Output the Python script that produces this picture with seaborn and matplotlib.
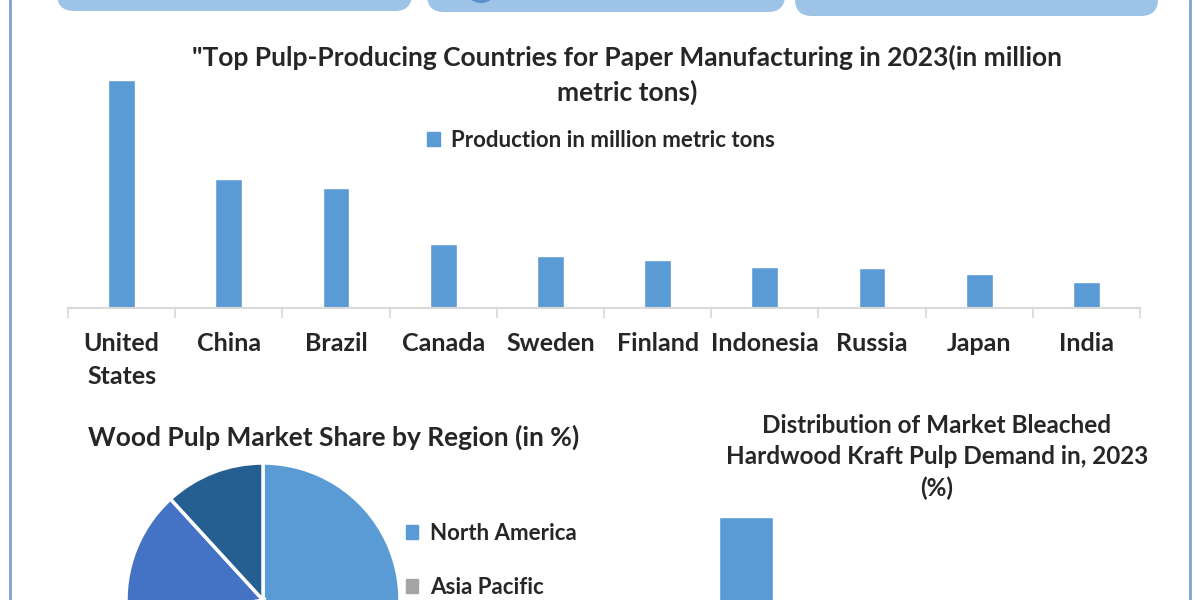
import matplotlib
matplotlib.use("Agg")
import matplotlib.pyplot as plt
from matplotlib.patches import FancyBboxPatch, Circle, Patch
import seaborn as sns
import pandas as pd
import numpy as np

# --- data ---
countries = ["United\nStates", "China", "Brazil", "Canada", "Sweden", "Finland",
             "Indonesia", "Russia", "Japan", "India"]
production = [50.0, 28.2, 26.4, 14.1, 11.5, 10.6, 9.0, 8.8, 7.5, 5.8]

regions = ["North America", "Asia Pacific", "Europe", "Latin America",
           "Middle East & Africa"]
region_share = [36.0, 24.0, 12.2, 16.0, 11.8]
region_colors = ["#5B9BD5", "#A5A5A5", "#ED7D31", "#4472C4", "#255E91"]

demand_regions = ["China", "Europe", "Asia", "North America", "Others"]
demand_share = [38.0, 22.0, 18.0, 12.0, 10.0]

BAR = "#5B9BD5"
FONT = ["Lato", "DejaVu Sans"]

sns.set_style("white")
plt.rcParams["font.family"] = FONT
plt.rcParams["font.weight"] = "bold"

W, H = 1200, 600
fig = plt.figure(figsize=(12, 6), dpi=100)


def fx(x):
    return x / W


def fy(y):
    return 1 - y / H


# background layer in pixel coords (decorations)
bg = fig.add_axes([0, 0, 1, 1], zorder=-5)
bg.set_xlim(0, W)
bg.set_ylim(H, 0)
bg.axis("off")
for x0, x1, yb in [(57, 412, 11), (427, 785, 12), (795, 1158, 16)]:
    bg.add_patch(FancyBboxPatch((x0, yb - 60), x1 - x0, 60,
                                boxstyle="round,pad=0,rounding_size=17",
                                fc="#9DC3E6", ec="none"))
bg.add_patch(Circle((481, -14), 17, fc="#5E8FCB", ec="none"))
bg.plot([10, 10], [0, H], color="#7BA3D4", lw=2)
bg.plot([1190, 1190], [0, H], color="#7BA3D4", lw=2)

# --- main bar chart ---
df = pd.DataFrame({"country": countries, "production": production})
ax = fig.add_axes([fx(68), fy(308), fx(1140) - fx(68), (308 - 80) / H])
sns.barplot(data=df, x="country", y="production", color=BAR, saturation=1,
            width=0.25, ax=ax)
ax.set_ylim(0, max(production))
ax.set_xlim(-0.5, len(countries) - 0.5)
ax.set_xlabel("")
ax.set_ylabel("")
ax.set_yticks([])
for s in ["top", "left", "right"]:
    ax.spines[s].set_visible(False)
ax.spines["bottom"].set_color("#D9D9D9")
ax.spines["bottom"].set_linewidth(1.5)
ax.set_xticks(np.arange(-0.5, len(countries)), minor=True)
ax.tick_params(axis="x", which="minor", length=7, width=1.2, color="#D9D9D9",
               direction="out", bottom=True)
ax.tick_params(axis="x", which="major", length=0, pad=17, labelsize=18)
for lbl in ax.get_xticklabels():
    lbl.set_fontweight("bold")
    lbl.set_linespacing(1.55)
    lbl.set_va("top")
ax.legend(handles=[Patch(color=BAR, label="Production in million metric tons")],
          loc="center", bbox_to_anchor=(fx(601), fy(140)),
          bbox_transform=fig.transFigure, frameon=False, fontsize=16,
          handlelength=0.6, handleheight=0.6, handletextpad=0.5)

fig.text(fx(627), fy(57), "\"Top Pulp-Producing Countries for Paper Manufacturing in 2023(in million",
         ha="center", va="center", fontsize=19, fontweight="bold")
fig.text(fx(627), fy(92), "metric tons)", ha="center", va="center",
         fontsize=19, fontweight="bold")

# --- pie chart (only the top half is inside the picture) ---
r = 137
pax = fig.add_axes([fx(263 - r), fy(600 + r), 2 * r / W, 2 * r / H])
pax.pie(region_share, colors=region_colors, startangle=90, counterclock=False,
        wedgeprops=dict(edgecolor="white", linewidth=2.5))
pax.set_xlim(-1, 1)
pax.set_ylim(-1, 1)
fig.text(fx(334), fy(437), "Wood Pulp Market Share by Region (in %)",
         ha="center", va="center", fontsize=19, fontweight="bold")
# legend entries that fall inside the picture
pax.legend(handles=[Patch(color=c, label=l)
                    for c, l in zip(region_colors[:2], regions[:2])],
           loc="upper left", bbox_to_anchor=(fx(386), fy(503)),
           bbox_transform=fig.transFigure, frameon=False, fontsize=16,
           handlelength=0.55, handleheight=0.55, handletextpad=0.55,
           labelspacing=1.48)

# --- demand bar chart (cropped at the bottom) ---
ddf = pd.DataFrame({"region": demand_regions, "share": demand_share})
dax = fig.add_axes([fx(700), fy(750), (1160 - 700) / W, (750 - 517) / H])
sns.barplot(data=ddf, x="region", y="share", color=BAR, saturation=1,
            width=0.59, ax=dax)
dax.set_ylim(0, max(demand_share))
dax.set_xlabel("")
dax.set_ylabel("")
dax.set_yticks([])
dax.set_xticklabels([])
sns.despine(ax=dax, left=True)
fig.text(fx(937), fy(457),
         "Distribution of Market Bleached\nHardwood Kraft Pulp Demand in, 2023\n(%)",
         ha="center", va="center", fontsize=17.5, fontweight="bold",
         linespacing=1.43)

fig.savefig("out.png", dpi=100)
